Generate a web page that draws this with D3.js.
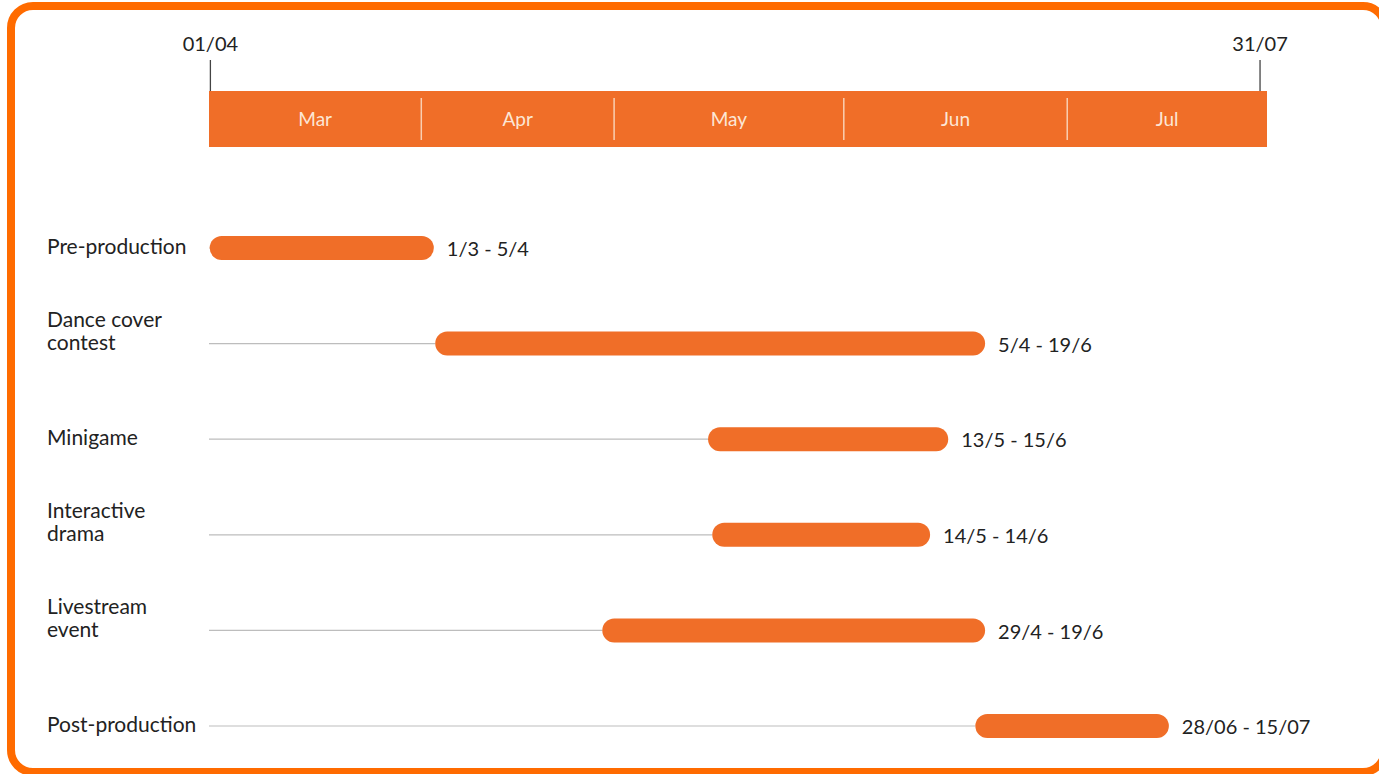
<!DOCTYPE html>
<html>
<head>
<meta charset="utf-8">
<script src="https://cdn.jsdelivr.net/npm/d3@7"></script>
<style>
  html, body { margin: 0; padding: 0; background: #ffffff; }
  svg { display: block; font-family: Lato, "Open Sans", sans-serif; }
</style>
</head>
<body>
<svg id="chart" width="1379" height="774"></svg>
<script>
// ---- data (day offsets counted from 1 March) ----
const months = ["Mar", "Apr", "May", "Jun", "Jul"];
const monthBounds = [0, 30.5, 58.2, 91.2, 123.3, 152];
const tickDays = [0.2, 151];
const tickLabels = ["01/04", "31/07"];
const taskNames = [["Pre-production"], ["Dance cover", "contest"], ["Minigame"], ["Interactive", "drama"], ["Livestream", "event"], ["Post-production"]];
const taskStart = [0.1, 32.5, 71.7, 72.3, 56.5, 110.1];
const taskEnd = [32.3, 111.5, 106.2, 103.6, 111.5, 137.9];
const taskLabels = ["1/3 - 5/4", "5/4 - 19/6", "13/5 - 15/6", "14/5 - 14/6", "29/4 - 19/6", "28/06 - 15/07"];

const svg = d3.select("#chart");
const orange = "#F06E28";

// frame
svg.append("rect")
  .attr("x", 11).attr("y", 6)
  .attr("width", 1374).attr("height", 766)
  .attr("rx", 22).attr("ry", 22)
  .attr("fill", "none").attr("stroke", "#FF6B00").attr("stroke-width", 8);

const x = d3.scaleLinear().domain([0, 152]).range([209, 1267]);
const ids = taskNames.map((d, i) => i);
const y = d3.scalePoint().domain(ids).range([248, 726]);

// month band
const bandTop = 91, bandH = 56;
svg.append("rect")
  .attr("x", x(0)).attr("y", bandTop)
  .attr("width", x(152) - x(0)).attr("height", bandH)
  .attr("fill", orange);

svg.selectAll(".sep").data(monthBounds.slice(1, -1)).enter().append("line")
  .attr("x1", d => x(d)).attr("x2", d => x(d))
  .attr("y1", bandTop + 7).attr("y2", bandTop + bandH - 7)
  .attr("stroke", "#F9CFB2").attr("stroke-width", 1.5);

svg.selectAll(".month").data(months).enter().append("text")
  .attr("x", (d, i) => (x(monthBounds[i]) + x(monthBounds[i + 1])) / 2)
  .attr("y", bandTop + bandH / 2)
  .attr("dy", "0.36em")
  .attr("text-anchor", "middle")
  .attr("fill", "#FCE6D6")
  .attr("font-size", 19)
  .text(d => d);

// top ticks
const tg = svg.selectAll(".tick").data(tickDays).enter().append("g")
  .attr("transform", d => `translate(${x(d)},0)`);
tg.append("line").attr("y1", 60).attr("y2", bandTop).attr("stroke", "#444").attr("stroke-width", 1.3);
tg.append("text").attr("y", 51).attr("text-anchor", "middle")
  .attr("font-size", 20).attr("fill", "#222")
  .text((d, i) => tickLabels[i]);

// task rows
const rows = svg.selectAll(".row").data(ids).enter().append("g");

rows.append("line")
  .attr("x1", x(0)).attr("x2", i => x(taskStart[i]))
  .attr("y1", i => y(i)).attr("y2", i => y(i))
  .attr("stroke", "#BDBDBD").attr("stroke-width", 1.2);

rows.append("rect")
  .attr("x", i => x(taskStart[i]))
  .attr("y", i => y(i) - 12)
  .attr("width", i => x(taskEnd[i]) - x(taskStart[i]))
  .attr("height", 24)
  .attr("rx", 12).attr("ry", 12)
  .attr("fill", orange);

rows.append("text")
  .attr("x", i => x(taskEnd[i]) + 13)
  .attr("y", i => y(i) + 1)
  .attr("dy", "0.36em")
  .attr("font-size", 20).attr("fill", "#222")
  .text(i => taskLabels[i]);

rows.each(function(i) {
  const lines = taskNames[i];
  const t = d3.select(this).append("text")
    .attr("x", 47)
    .attr("font-size", 21).attr("fill", "#222");
  const y0 = lines.length === 1 ? y(i) - 2 : y(i) - 24;
  lines.forEach((ln, k) => {
    t.append("tspan").attr("x", 47).attr("y", y0 + k * 23).attr("dy", "0.36em").text(ln);
  });
});
</script>
</body>
</html>
